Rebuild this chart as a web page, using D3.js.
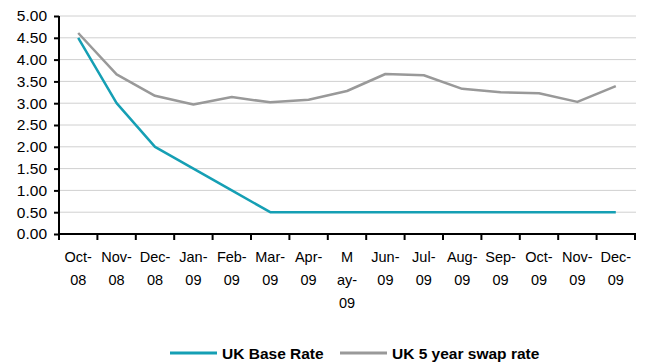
<!DOCTYPE html>
<html><head><meta charset="utf-8">
<script src="https://cdn.jsdelivr.net/npm/d3@7"></script>
<style>body{margin:0;background:#fff;} svg{display:block;font-family:"Liberation Sans",Arial,sans-serif;}</style>
</head><body>
<svg id="c" width="649" height="363"></svg>
<script>
const categories = ["Oct-08","Nov-08","Dec-08","Jan-09","Feb-09","Mar-09","Apr-09","May-09","Jun-09","Jul-09","Aug-09","Sep-09","Oct-09","Nov-09","Dec-09"];
const tickLabels = [["Oct-","08"],["Nov-","08"],["Dec-","08"],["Jan-","09"],["Feb-","09"],["Mar-","09"],["Apr-","09"],["M","ay-","09"],["Jun-","09"],["Jul-","09"],["Aug-","09"],["Sep-","09"],["Oct-","09"],["Nov-","09"],["Dec-","09"]];
const baseRate = [4.5,3.0,2.0,1.5,1.0,0.5,0.5,0.5,0.5,0.5,0.5,0.5,0.5,0.5,0.5];
const swapRate = [4.61,3.66,3.17,2.97,3.14,3.02,3.08,3.28,3.67,3.64,3.33,3.25,3.23,3.03,3.39];
const yTicks = [0,0.5,1,1.5,2,2.5,3,3.5,4,4.5,5];
const seriesNames = ["UK Base Rate","UK 5 year swap rate"];
const colors = ["#159fb4","#999999"];

const svg = d3.select("#c");
const L=59, R=635, T=16, B=234;
const x = d3.scaleBand().domain(categories).range([L,R]);
const y = d3.scaleLinear().domain([0,5]).range([B,T]);

// gridlines
svg.append("g").selectAll("line").data(yTicks.filter(d=>d>0)).join("line")
  .attr("x1",L).attr("x2",R+1).attr("y1",d=>y(d)).attr("y2",d=>y(d))
  .attr("stroke","#d0d0d0").attr("stroke-width",1);

// y axis
const ya = svg.append("g").attr("transform",`translate(${L},0)`)
  .call(d3.axisLeft(y).tickValues(yTicks).tickFormat(d3.format(".2f")).tickSize(5).tickPadding(7));
ya.select(".domain").attr("stroke","#000").attr("stroke-width",2).attr("d",`M0,${T}V${B}`);
ya.selectAll(".tick line").attr("stroke","#000").attr("stroke-width",2);
ya.selectAll(".tick text").attr("font-size",15.5).attr("fill","#000").attr("font-family","Liberation Sans, Arial, sans-serif");

// x axis
const xa = svg.append("g").attr("transform",`translate(0,${B})`)
  .call(d3.axisBottom(x).tickSize(0).tickFormat(""));
xa.select(".domain").attr("stroke","#000").attr("stroke-width",2).attr("d",`M${L},0H${R+1}`);
const edges = categories.map(c=>x(c)).concat([R]);
xa.selectAll(".edge").data(edges).join("line").attr("class","edge")
  .attr("x1",d=>d).attr("x2",d=>d).attr("y1",0).attr("y2",6)
  .attr("stroke","#000").attr("stroke-width",2);
const lbl = xa.selectAll(".lbl").data(categories).join("text").attr("class","lbl")
  .attr("text-anchor","middle").attr("font-size",14.5).attr("fill","#000")
  .attr("x",d=>x(d)+x.bandwidth()/2);
lbl.each(function(d,i){
  const t=d3.select(this);
  tickLabels[i].forEach((s,j)=>t.append("tspan").attr("x",x(d)+x.bandwidth()/2).attr("y",28+j*23).text(s));
});

// lines
const line = d3.line().x((d,i)=>x(categories[i])+x.bandwidth()/2).y(d=>y(d));
[baseRate,swapRate].forEach((s,k)=>{
  svg.append("path").datum(s).attr("d",line).attr("fill","none")
    .attr("stroke",colors[k]).attr("stroke-width",2.5).attr("stroke-linejoin","round");
});

// legend
const leg = svg.append("g");
const legX=[170,340];
seriesNames.forEach((n,k)=>{
  leg.append("line").attr("x1",legX[k]).attr("x2",legX[k]+47).attr("y1",353).attr("y2",353)
    .attr("stroke",colors[k]).attr("stroke-width",3);
  leg.append("text").attr("x",legX[k]+52).attr("y",358.5).attr("font-size",15.5).attr("font-weight","bold")
    .attr("fill","#000").text(n);
});
</script>
</body></html>
